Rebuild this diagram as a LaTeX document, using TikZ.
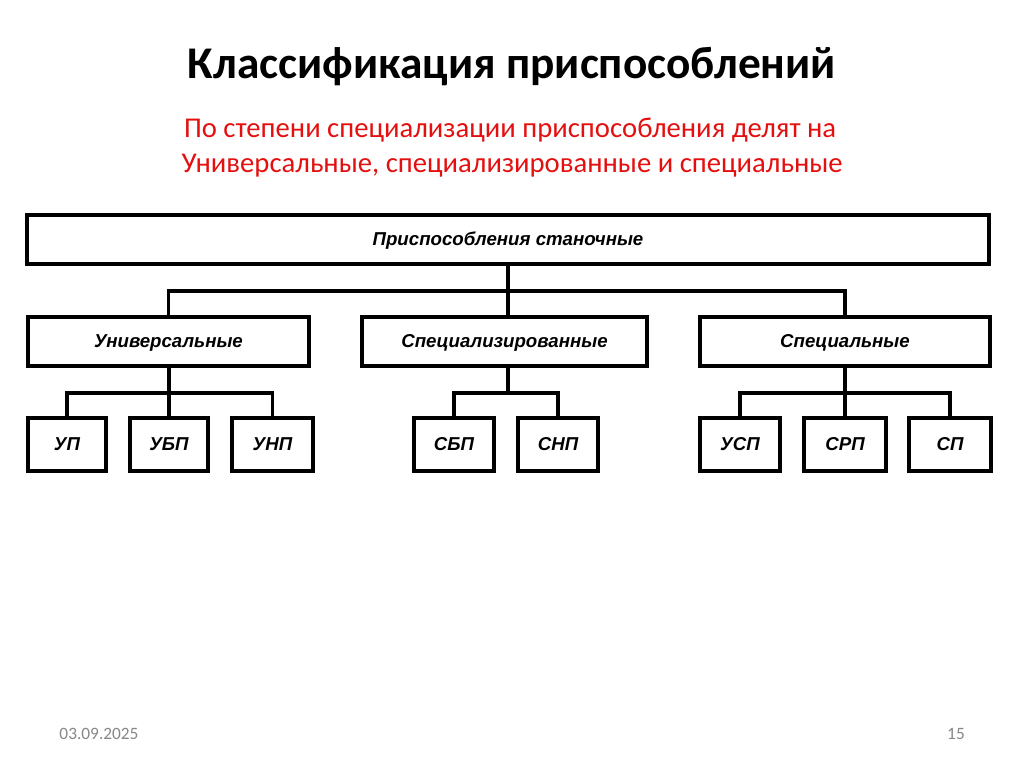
\documentclass[tikz,border=0pt]{standalone}
\usepackage{fontspec}
\setmainfont{Carlito}
\newfontfamily\schemefont{Liberation Sans}
\usetikzlibrary{positioning}
\definecolor{subred}{RGB}{228,16,16}
\definecolor{footgray}{RGB}{135,135,135}

\begin{document}
\begin{tikzpicture}[x=0.75pt,y=-0.75pt,line width=2.8pt]
  \tikzstyle{every node}=[inner sep=0pt]
  \tikzstyle{block}=[draw=black,fill=white,line width=2.8pt,minimum height={49*0.75pt},
    text height=1.9ex,text depth=0.1ex,
    font=\schemefont\bfseries\itshape\fontsize{14}{16}\selectfont]
  \tikzstyle{leaf}=[block,minimum width={80*0.75pt},minimum height={53*0.75pt}]

  \useasboundingbox[fill=white] (0,0) rectangle (1024,767);

  % title and subtitle
  \node (title) at (512,67) {\fontsize{34}{38}\selectfont\bfseries Классификация приспособлений};
  \node[text=subred] (sub1) at (510,130) {\fontsize{21.5}{25}\selectfont По степени специализации приспособления делят на};
  \node[text=subred] (sub2) at (512,166) {\fontsize{21.5}{25}\selectfont Универсальные, специализированные и специальные};

  % boxes
  \node[block,minimum width={962*0.75pt}] (T) at (508,239.5) {Приспособления станочные};
  \node[block,minimum width={281*0.75pt}] (U) at (168.5,341.5) {Универсальные};
  \node[block,minimum width={285*0.75pt}] (Sp) at (504.5,341.5) {Специализированные};
  \node[block,minimum width={290*0.75pt}] (S) at (845,341.5) {Специальные};

  \node[leaf,minimum width={78*0.75pt}] (UP) at (67,444.5) {УП};
  \node[leaf,minimum width={78*0.75pt}] (UBP) at (169,444.5) {УБП};
  \node[leaf,minimum width={81*0.75pt}] (UNP) at (272.5,444.5) {УНП};
  \node[leaf] (SBP) at (454,444.5) {СБП};
  \node[leaf] (SNP) at (558,444.5) {СНП};
  \node[leaf] (USP) at (740,444.5) {УСП};
  \node[leaf,minimum width={82*0.75pt}] (SRP) at (845,444.5) {СРП};
  \node[leaf,minimum width={82*0.75pt}] (SP) at (950,444.5) {СП};

  % connectors
  \coordinate (jT) at (508,291);
  \coordinate (jU) at (169,393);
  \coordinate (jSp) at (508,393);
  \coordinate (jS) at (845,393);

  \draw (T.south) -- (T.south |- Sp.north);
  \draw (U.north) |- (jT) -| (S.north);
  \draw (U.south) -- (U.south -| jU) -- (jU |- UBP.north);
  \draw (UP.north) |- (jU) -| (UNP.north);
  \draw (Sp.south -| jSp) -- (jSp);
  \draw (SBP.north) |- (jSp) -| (SNP.north);
  \draw (S.south) -- (SRP.north);
  \draw (USP.north) |- (jS) -| (SP.north);

  % footer
  \node[text=footgray] (date) at (99,734) {\fontsize{13}{15}\selectfont 03.09.2025};
  \node[text=footgray] (page) at (956,734) {\fontsize{13}{15}\selectfont 15};
\end{tikzpicture}
\end{document}
